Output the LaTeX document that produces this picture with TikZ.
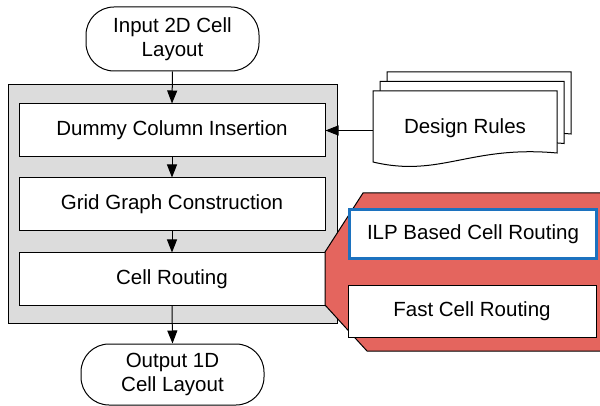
\documentclass[tikz,border=0pt]{standalone}
\usepackage{fontspec}
\setmainfont{Liberation Sans}
\usetikzlibrary{arrows.meta}
\definecolor{panelgray}{HTML}{DCDCDC}
\definecolor{calloutred}{HTML}{E4655E}
\definecolor{ilpblue}{HTML}{1C72BF}
\tikzset{
  lbl/.style={font=\fontsize{20.5}{24}\selectfont, align=center, inner sep=0pt},
  procbox/.style={lbl, draw=black, line width=1pt, fill=white, minimum width=306pt, minimum height=53pt},
  termbox/.style={lbl, draw=black, line width=1pt, fill=white, rounded corners=28pt},
  arr/.style={line width=1pt, -{Triangle[length=13pt,width=10pt]}},
  sheet/.style={draw=black, line width=1pt, fill=white},
}
\begin{document}
\begin{tikzpicture}[x=1pt,y=-1pt]
\useasboundingbox (0,0) rectangle (600,406);
% gray panel
\draw[line width=1pt, fill=panelgray] (8,85) rectangle (337,323);
% terminals
\node[termbox, minimum width=173pt, minimum height=64pt] (in) at (172.5,39) {Input 2D Cell\\Layout};
\node[termbox, minimum width=183pt, minimum height=61pt] (out) at (172.5,374.5) {Output 1D\\Cell Layout};
% process boxes
\node[procbox] (dummy) at (172,130.5) {Dummy Column Insertion};
\node[procbox] (grid) at (172,204.5) {Grid Graph Construction};
\node[procbox, minimum height=52pt] (cellr) at (172,279) {Cell Routing};
% arrows
\draw[arr] (in.south) -- (dummy.north);
\draw[arr] (dummy.south) -- (grid.north);
\draw[arr] (grid.south) -- (cellr.north);
\draw[arr] (cellr.south) -- (out.north);
% callout
\draw[line width=1pt, fill=calloutred] (363,193) -- (602,193) -- (602,351) -- (367,351) -- (325,305) -- (325,252) -- cycle;
\node[lbl, draw=ilpblue, line width=3pt, fill=white, minimum width=247pt, minimum height=49pt] (ilp) at (473,234) {ILP Based Cell Routing};
\node[lbl, draw=black, line width=1pt, fill=white, minimum width=248pt, minimum height=51pt] (fast) at (472,311.5) {Fast Cell Routing};
% design rules stack
\foreach \dx/\dy in {14/-19, 7/-9.5, 0/0}{
  \draw[sheet, shift={(\dx,\dy)}] (373,91) -- (557,91) -- (557,153)
     .. controls (470,145) and (440,178) .. (373,162) -- cycle;
}
\node[lbl] (dr) at (465,128) {Design Rules};
\coordinate (drw) at (373,130.5);
\draw[arr] (drw) -- (dummy.east);
\end{tikzpicture}
\end{document}
